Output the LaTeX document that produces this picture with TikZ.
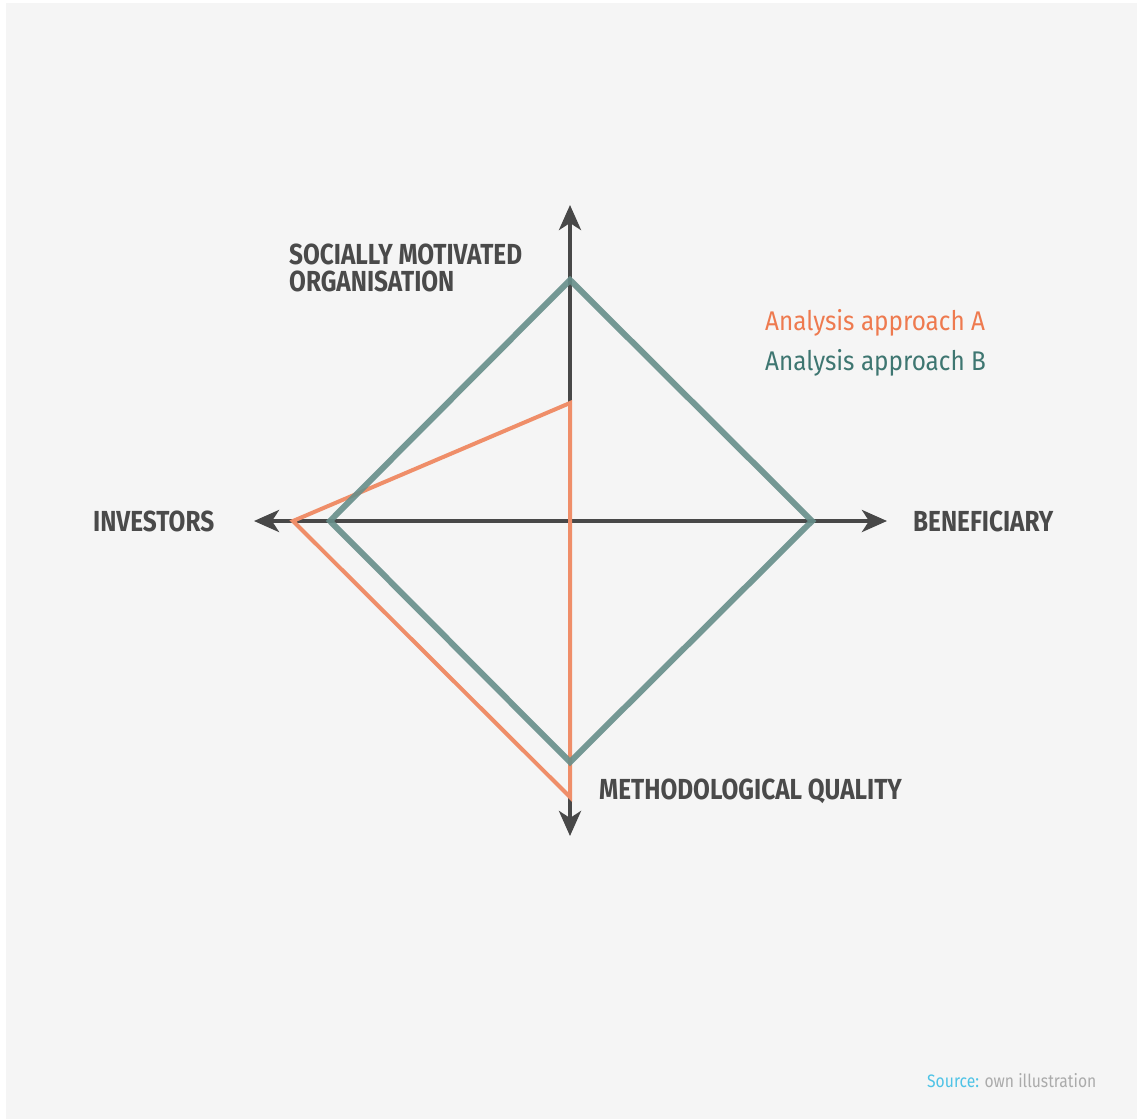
\documentclass[tikz,border=0pt]{standalone}
\usepackage{fontspec}
\setmainfont{Fira Sans}
\newfontfamily\labfont[FakeStretch=0.84]{Fira Sans}
\newfontfamily\legfont[FakeStretch=0.9]{Fira Sans}
\newfontfamily\srcfont[FakeStretch=0.87]{Fira Sans}
\usetikzlibrary{arrows.meta}
\definecolor{bgc}{HTML}{F5F5F5}
\definecolor{axisc}{HTML}{484848}
\definecolor{labc}{HTML}{4A4A4A}
\definecolor{tealc}{HTML}{678E8A}
\definecolor{tealtxt}{HTML}{3E7671}
\definecolor{orangec}{HTML}{EF8E69}
\definecolor{orangetxt}{HTML}{EE7A4F}
\definecolor{srcc}{HTML}{4EC3E6}
\definecolor{srcg}{HTML}{ABABAB}
\tikzset{
  axisline/.style={draw=axisc, line width=4pt, -{Stealth[length=25pt,width=22pt,inset=7pt]}},
  axislabel/.style={anchor=base west, inner sep=0pt, text=labc, font=\labfont\bfseries\fontsize{29}{27}\selectfont},
  legendtxt/.style={anchor=base west, inner sep=0pt, font=\legfont\fontsize{27}{30}\selectfont},
  tealpoly/.style={draw=tealc, line width=6pt, line join=miter, draw opacity=0.9},
  orangepoly/.style={draw=orangec, line width=4pt, line join=miter}
}
\begin{document}
\begin{tikzpicture}[x=1pt,y=-1pt]
\useasboundingbox (0,0) rectangle (1137,1119);
\fill[white] (0,0) rectangle (1137,1119);
\fill[bgc] (6,3) rectangle (1137,1119);
% axes
\coordinate (O) at (570,521);
\coordinate (ytop) at (570,205);
\coordinate (ybot) at (570,836);
\coordinate (xl) at (254,521);
\coordinate (xr) at (887,521);
\draw[axisline] (O) -- (ytop);
\draw[axisline] (O) -- (ybot);
\draw[axisline] (O) -- (xl);
\draw[axisline] (O) -- (xr);
% analysis A
\coordinate (at) at (570,403);
\coordinate (al) at (293,521);
\coordinate (ab) at (570,797);
\draw[orangepoly] (at) -- (al) -- (ab) -- cycle;
% analysis B
\coordinate (bt) at (570,280);
\coordinate (br) at (812,521);
\coordinate (bb) at (570,762);
\coordinate (bl) at (330,521);
\draw[tealpoly] (bt) -- (br) -- (bb) -- (bl) -- cycle;
% labels
\node[axislabel] (soc1) at (289,264) {SOCIALLY MOTIVATED};
\node[axislabel] (soc2) at (289,291) {ORGANISATION};
\node[axislabel] (inv) at (93,531) {INVESTORS};
\node[axislabel] (ben) at (913,531) {BENEFICIARY};
\node[axislabel] (met) at (599,799) {METHODOLOGICAL QUALITY};
\node[legendtxt, text=orangetxt] (lega) at (765,330) {Analysis approach A};
\node[legendtxt, text=tealtxt] (legb) at (765,370) {Analysis approach B};
\node[anchor=base west, inner sep=0pt, font=\srcfont\fontsize{18}{20}\selectfont] (src) at (927,1087) {\textcolor{srcc}{Source:} \textcolor{srcg}{own illustration}};
\end{tikzpicture}
\end{document}
